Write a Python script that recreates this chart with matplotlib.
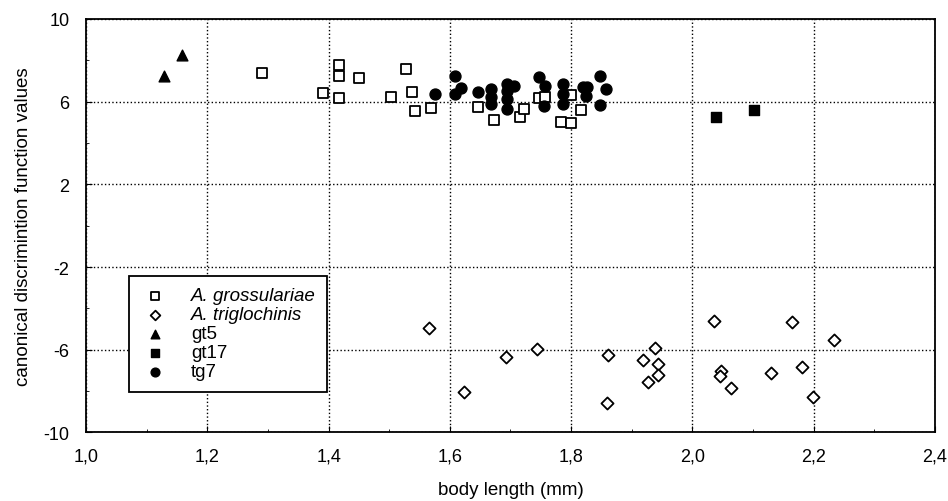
import matplotlib.pyplot as plt
from matplotlib.ticker import MultipleLocator, FuncFormatter

plt.rcParams['font.family'] = ['Liberation Sans', 'DejaVu Sans']

# A. grossulariae (open squares)
gros_x = [1.291, 1.391, 1.418, 1.418, 1.418, 1.450, 1.503, 1.528, 1.538, 1.543,
          1.569, 1.646, 1.672, 1.716, 1.723, 1.747, 1.757, 1.799, 1.816, 1.784, 1.799]
gros_y = [7.37, 6.41, 7.79, 7.24, 6.16, 7.13, 6.24, 7.57, 6.47, 5.55,
          5.70, 5.76, 5.11, 5.27, 5.63, 6.16, 6.21, 6.34, 5.60, 5.00, 4.95]

# A. triglochinis (open diamonds)
trig_x = [1.565, 1.624, 1.692, 1.744, 1.861, 1.859, 1.919, 1.938, 1.944, 1.944,
          1.927, 2.036, 2.047, 2.045, 2.063, 2.130, 2.165, 2.181, 2.198, 2.233]
trig_y = [-4.95, -8.06, -6.34, -5.96, -6.27, -8.56, -6.51, -5.90, -6.69, -7.22,
          -7.58, -4.59, -7.03, -7.29, -7.87, -7.14, -4.64, -6.85, -8.30, -5.53]

# gt5 (filled triangles)
gt5_x = [1.128, 1.159]
gt5_y = [7.23, 8.26]

# gt17 (filled squares)
gt17_x = [2.039, 2.101]
gt17_y = [5.24, 5.61]

# tg7 (filled circles)
tg7_x = [1.576, 1.608, 1.618, 1.608, 1.646, 1.668, 1.668, 1.668, 1.695, 1.695,
         1.695, 1.695, 1.706, 1.747, 1.757, 1.755, 1.787, 1.787, 1.787, 1.819,
         1.826, 1.824, 1.848, 1.857, 1.848]
tg7_y = [6.39, 7.24, 6.66, 6.39, 6.48, 6.63, 6.24, 5.89, 6.86, 6.50,
         6.13, 5.63, 6.75, 7.21, 6.76, 5.81, 6.86, 6.37, 5.89, 6.73,
         6.70, 6.29, 7.23, 6.61, 5.84]

y_ticks = [-10, -6, -2, 2, 6, 10]

fig = plt.figure(figsize=(9.48, 5.02), dpi=100)
ax = fig.add_axes([0.0907, 0.1367, 0.8956, 0.8235])

ax.scatter(gros_x, gros_y, marker='s', s=55, facecolors='white', edgecolors='black',
           linewidths=1.3, label='A. grossulariae', zorder=3)
ax.scatter(trig_x, trig_y, marker='D', s=38, facecolors='white', edgecolors='black',
           linewidths=1.3, label='A. triglochinis', zorder=3)
ax.scatter(gt5_x, gt5_y, marker='^', s=60, color='black', label='gt5', zorder=3)
ax.scatter(gt17_x, gt17_y, marker='s', s=60, color='black', label='gt17', zorder=3)
ax.scatter(tg7_x, tg7_y, marker='o', s=62, color='black', label='tg7', zorder=4)

ax.set_xlim(1.0, 2.4)
ax.set_ylim(-10, 10)
ax.xaxis.set_major_locator(MultipleLocator(0.2))
ax.xaxis.set_minor_locator(MultipleLocator(0.1))
ax.set_yticks(y_ticks)
ax.yaxis.set_minor_locator(MultipleLocator(2))
ax.xaxis.set_major_formatter(FuncFormatter(lambda v, p: ('%.1f' % v).replace('.', ',')))
ax.yaxis.set_major_formatter(FuncFormatter(lambda v, p: '%d' % round(v)))
ax.tick_params(which='both', direction='in', labelsize=13, colors='black')
ax.tick_params(axis='x', which='major', length=4, pad=11)
ax.tick_params(axis='y', which='major', length=4, pad=12)
ax.tick_params(which='minor', length=2)
ax.grid(True, which='major', linestyle=':', color='black', linewidth=1)
for sp in ax.spines.values():
    sp.set_linewidth(1.3)

ax.set_xlabel('body length (mm)', fontsize=13.5, labelpad=12)
ax.set_ylabel('canonical discrimintion function values', fontsize=13.5, labelpad=8)

leg = ax.legend(loc='upper left', bbox_to_anchor=(0.0506, 0.378), borderaxespad=0,
                fancybox=False, edgecolor='black', framealpha=1, fontsize=13.5,
                handletextpad=1.1, labelspacing=0.1, markerscale=0.8, borderpad=0.6,
                handlelength=1.6)
leg.get_frame().set_linewidth(1.3)
for t in leg.get_texts()[:2]:
    t.set_fontstyle('italic')

fig.savefig('out.png', dpi=100)
